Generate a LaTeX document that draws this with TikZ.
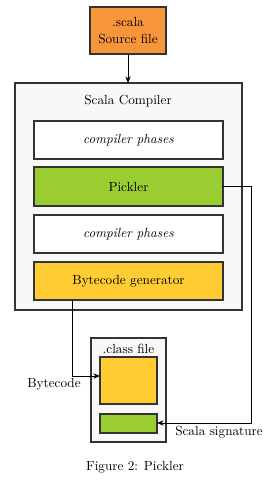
\documentclass[tikz,border=0pt]{standalone}
\usetikzlibrary{arrows.meta}
\definecolor{srcorange}{HTML}{F7953A}
\definecolor{pickgreen}{HTML}{9ACD32}
\definecolor{bcyellow}{HTML}{FFCC33}
\definecolor{boxgray}{HTML}{F8F8F8}
\definecolor{edge}{HTML}{333333}
\begin{document}
\begin{tikzpicture}[x=0.757pt,y=-0.757pt,
  blk/.style={draw=edge,line width=0.9pt},
  conn/.style={draw=black,line width=0.6pt,-{Stealth[length=5pt,width=4pt]}},
  lbl/.style={inner sep=0pt,font=\normalsize}]
\useasboundingbox (0,0) rectangle (270,480);
% source
\draw[blk,fill=srcorange] (90,7) rectangle (166,54);
\node[lbl,align=center] (src) at (128,30.5) {.scala\\[1pt]Source file};
\coordinate (srcb) at (128,54);
% compiler
\draw[blk,fill=boxgray] (15,83) rectangle (242,310);
\coordinate (compt) at (128,83);
\node[lbl] (comptitle) at (128,101) {Scala Compiler};
\draw[blk,fill=white] (34,121) rectangle (223,159);
\node[lbl] (ph1) at (128.5,140) {\itshape compiler phases};
\draw[blk,fill=pickgreen] (34,167) rectangle (223,206);
\node[lbl] (pick) at (128.5,186.5) {Pickler};
\draw[blk,fill=white] (34,215) rectangle (223,253);
\node[lbl] (ph2) at (128.5,234) {\itshape compiler phases};
\draw[blk,fill=bcyellow] (34,262) rectangle (223,300);
\node[lbl] (bc) at (128.5,281) {Bytecode generator};
% class file
\draw[blk,fill=boxgray] (91,338) rectangle (166,442);
\node[lbl] (cls) at (128.5,349) {.class file};
\draw[blk,fill=bcyellow] (100,357) rectangle (157,404);
\draw[blk,fill=pickgreen] (100,414) rectangle (157,433);
\coordinate (pickr) at (223,186);
\coordinate (bcb) at (72,300);
\coordinate (clsbc) at (100,376);
\coordinate (clssig) at (157,423);
% connectors
\draw[conn] (srcb) -- (compt);
\draw[conn] (bcb) |- (clsbc);
\draw[conn] (pickr) -- (251,186) |- (clssig);
\node[lbl] (bclbl) at (54,384) {Bytecode};
\node[lbl] (siglbl) at (219,432) {Scala signature};
\node[lbl] (cap) at (135,467) {Figure 2: Pickler};
\end{tikzpicture}
\end{document}
